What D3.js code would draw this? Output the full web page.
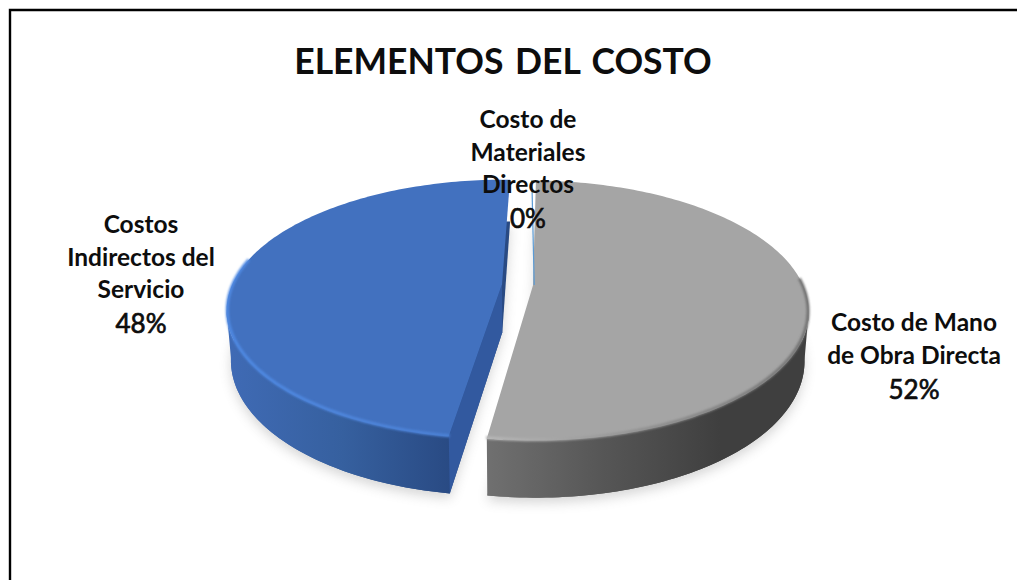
<!DOCTYPE html>
<html lang="es">
<head>
<meta charset="utf-8">
<title>Elementos del costo</title>
<script src="https://cdnjs.cloudflare.com/ajax/libs/d3/7.8.5/d3.min.js"></script>
<style>
  html, body { margin: 0; padding: 0; background: #fff; }
  svg { display: block; }
  text { font-family: Lato, "Open Sans", sans-serif; fill: #0d0d0d; text-anchor: middle; }
</style>
</head>
<body>
<svg id="chart" width="1017" height="580"></svg>
<script>
// Chart content
const chartTitle = "ELEMENTOS DEL COSTO";
const categories = ["Costo de Materiales Directos", "Costo de Mano de Obra Directa", "Costos Indirectos del Servicio"];
const shares = [0, 52, 48];
const labelLines = [["Costo de", "Materiales", "Directos"], ["Costo de Mano", "de Obra Directa"], ["Costos", "Indirectos del", "Servicio"]];

// Slice paint: top face, rim highlight (left to right), side gradient (left to right), cut wall
const topColors = ["#5b9bd5", "#a5a5a5", "#4271bf"];
const rimStops = [["#9cc3e6", "#9cc3e6"], ["#b8b8b8", "#8f8f8f", "#707070"], ["#4f8ae4", "#4f86dc", "#4a7fd2"]];
const sideStops = [["#9cc3e6", "#9cc3e6"], ["#707070", "#565656", "#3f3f3f"], ["#3f6ab4", "#36609f", "#294a83"]];
const wallColor = "#32599f";

// Where each data label sits: centre x and first baseline
const labelAnchors = [[528, 128], [914, 331], [141, 233]];
const lineStep = 32.5;

// Pie geometry with a perspective tilt
const cx = 519.5, cy = 285, rx = 270, ry = 125, tilt = 0.192;
const depth = 48, baseScale = 0.985, rotation = 1.3 * Math.PI / 180;
const explosions = [0, 0.05, 0.065];

const W = 1017, H = 580;
const svg = d3.select("#chart");
const defs = svg.append("defs");

const soft = defs.append("filter").attr("id", "shadowBlur")
  .attr("x", "-10%").attr("y", "-10%").attr("width", "120%").attr("height", "120%");
soft.append("feGaussianBlur").attr("stdDeviation", 6);
const rimBlur = defs.append("filter").attr("id", "rimBlur")
  .attr("x", "-5%").attr("y", "-5%").attr("width", "110%").attr("height", "110%");
rimBlur.append("feGaussianBlur").attr("stdDeviation", 1);

// Angles come from the pie layout, clockwise from the top
const pie = d3.pie().sort(null).value(d => d)
  .startAngle(rotation).endAngle(rotation + 2 * Math.PI);
const arcs = pie(shares);

// Disc coordinates (unit circle, v pointing away) to screen
function project(u, v, lower) {
  const w = 1 + tilt * v;
  let x = rx * u / w, y = -ry * v / w;
  if (lower) { x *= baseScale; y = y * baseScale + depth / w; }
  return [cx + x, cy + y];
}

function sampleArc(sliceOffset, from, to, lower) {
  const n = Math.max(2, Math.ceil(Math.abs(to - from) / 0.02));
  return d3.range(n + 1).map(i => {
    const t = from + (to - from) * i / n;
    return project(Math.sin(t) + sliceOffset[0], Math.cos(t) + sliceOffset[1], lower);
  });
}

const line = d3.line();

const slices = arcs.map((a, i) => {
  const mid = (a.startAngle + a.endAngle) / 2;
  const off = a.value > 0
    ? [Math.sin(mid) * explosions[i], Math.cos(mid) * explosions[i]]
    : [0.0545, 0];
  return { a, i, off };
});

function facePath(s, lower) {
  const apex = project(s.off[0], s.off[1], lower);
  return line([apex, ...sampleArc(s.off, s.a.startAngle, s.a.endAngle, lower)]) + "Z";
}

// Visible outer wall runs over the part of the arc that faces the viewer
function sidePath(s) {
  const lo = Math.max(s.a.startAngle, Math.PI / 2 + Math.asin(tilt));
  const hi = Math.min(s.a.endAngle, 3 * Math.PI / 2 - Math.asin(tilt));
  if (hi <= lo) return null;
  const top = sampleArc(s.off, lo, hi, false);
  const bottom = sampleArc(s.off, hi, lo, true);
  return line([...top, ...bottom]) + "Z";
}

// Soft ground shadow
const visible = slices.filter(s => s.a.value > 0);
svg.append("g").attr("filter", "url(#shadowBlur)").attr("opacity", 0.32)
  .attr("transform", "translate(0,5)")
  .selectAll("path").data(visible).join("path")
  .attr("d", s => facePath(s, true)).attr("fill", "#808080");

// Horizontal shading for every outer wall and rim
function horizontalGradient(id, x1, x2, stops) {
  const g = defs.append("linearGradient").attr("id", id)
    .attr("gradientUnits", "userSpaceOnUse")
    .attr("x1", x1).attr("x2", x2).attr("y1", 0).attr("y2", 0);
  stops.forEach((c, k, all) =>
    g.append("stop").attr("offset", k / (all.length - 1)).attr("stop-color", c));
}
visible.forEach(s => {
  const xs = sampleArc(s.off, s.a.startAngle, s.a.endAngle, false).map(p => p[0]);
  const lo = d3.min(xs), hi = d3.max(xs);
  horizontalGradient("side" + s.i, s.i === 1 ? lo : lo + 6, s.i === 1 ? 720 : 452, sideStops[s.i]);
  horizontalGradient("rim" + s.i, lo, hi, rimStops[s.i]);
});

const pieLayer = svg.append("g");

// Lower discs close the silhouette under the walls
pieLayer.selectAll("path.base").data(visible).join("path")
  .attr("class", "base").attr("d", s => facePath(s, true))
  .attr("fill", s => `url(#side${s.i})`);

pieLayer.selectAll("path.side").data(visible).join("path")
  .attr("class", "side").attr("d", sidePath)
  .attr("fill", s => `url(#side${s.i})`);

// Cut wall of the slice pulled towards the left
visible.filter(s => s.i === 2).forEach(s => {
  const edgeU = Math.sin(s.a.startAngle) + s.off[0], edgeV = Math.cos(s.a.startAngle) + s.off[1];
  const pts = [
    project(s.off[0], s.off[1], false),
    project(edgeU, edgeV, false),
    project(edgeU, edgeV, true),
    project(s.off[0], s.off[1], true)
  ];
  pieLayer.append("path").attr("d", line(pts) + "Z").attr("fill", wallColor);
});

pieLayer.selectAll("path.top").data(visible).join("path")
  .attr("class", "top").attr("d", s => facePath(s, false))
  .attr("fill", s => topColors[s.i]);

// Bevel highlight along the front of each top face
const rims = pieLayer.append("g").attr("filter", "url(#rimBlur)");
rims.selectAll("path").data(visible).join("path")
  .attr("d", s => {
    const lo = Math.max(s.a.startAngle, Math.PI / 2 - 0.05);
    const hi = Math.min(s.a.endAngle, 3 * Math.PI / 2 + 0.2);
    return line(sampleArc(s.off, lo, hi, false).map(p => [p[0] + (s.i === 2 ? 1 : -1) * 0.8, p[1] - 0.8]));
  })
  .attr("fill", "none").attr("stroke", s => `url(#rim${s.i})`).attr("stroke-width", 3);

// The empty slice survives as a hairline at twelve o'clock
slices.filter(s => s.a.value === 0).forEach(s => {
  pieLayer.append("path")
    .attr("d", line([project(s.off[0], s.off[1], false), project(s.off[0], 1, false)]))
    .attr("stroke", topColors[s.i]).attr("stroke-width", 1.2).attr("fill", "none");
});

// Title
svg.append("text").attr("x", 503).attr("y", 74)
  .attr("font-size", 35.5).attr("font-weight", 700).attr("word-spacing", 3).text(chartTitle);

// Data labels
const labels = svg.selectAll("g.label").data(categories).join("g").attr("class", "label");
labels.each(function (d, i) {
  const [x, y] = labelAnchors[i];
  const g = d3.select(this);
  labelLines[i].forEach((t, k) => {
    g.append("text").attr("x", x).attr("y", y + k * lineStep)
      .attr("font-size", 24.5).attr("font-weight", 700).text(t);
  });
  g.append("text").attr("x", x).attr("y", y + labelLines[i].length * lineStep + 2.5)
    .attr("font-size", 26).attr("font-weight", 400)
    .style("stroke", "#0d0d0d").style("stroke-width", 0.7)
    .text(shares[i] + "%");
});

// Outer frame, cut off by the right and bottom edges of the page
svg.append("path").attr("d", line([[10, H + 2], [10, 10], [W + 2, 10]]))
  .attr("fill", "none").attr("stroke", "#000").attr("stroke-width", 2.4);
</script>
</body>
</html>
